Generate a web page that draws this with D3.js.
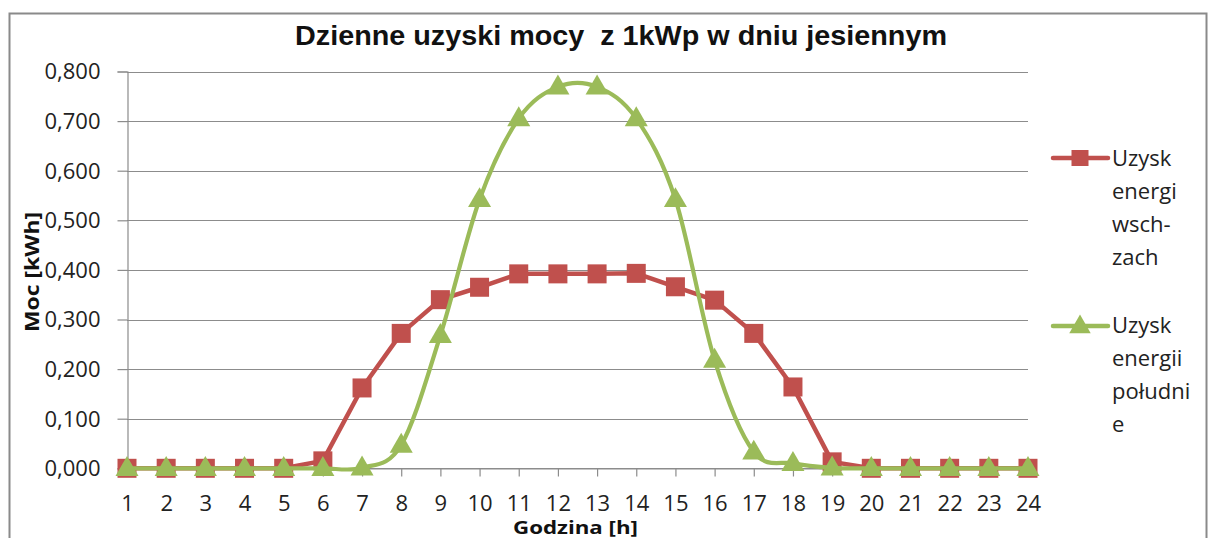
<!DOCTYPE html>
<html>
<head>
<meta charset="utf-8">
<script src="https://cdn.jsdelivr.net/npm/d3@7"></script>
<style>
  html, body { margin: 0; padding: 0; background: #fff; }
  svg { display: block; }
  .pre { white-space: pre; }
</style>
</head>
<body>
<svg id="chart" width="1210" height="538"></svg>
<script>
const hours = [1,2,3,4,5,6,7,8,9,10,11,12,13,14,15,16,17,18,19,20,21,22,23,24];
const eastWest = [0,0,0,0,0,0.015,0.162,0.272,0.340,0.365,0.392,0.392,0.392,0.393,0.366,0.339,0.272,0.164,0.013,0,0,0,0,0];
const south = [0,0,0,0,0,0,0.001,0.047,0.268,0.542,0.705,0.769,0.769,0.705,0.542,0.218,0.033,0.010,0.001,0,0,0,0,0];
const yTicks = [0,0.1,0.2,0.3,0.4,0.5,0.6,0.7,0.8];
const seriesNames = [["Uzysk","energi","wsch-","zach"],["Uzysk","energii","południ","e"]];
const titleText = "Dzienne uzyski mocy  z 1kWp w dniu jesiennym";
const xTitle = "Godzina [h]";
const yTitle = "Moc [kWh]";

const RED = "#C0504D", GREEN = "#9BBB59", GRID = "#8C8C8C";
const FONT = "'Open Sans', 'Liberation Sans', sans-serif";

const svg = d3.select("#chart");

// chart border
svg.append("rect").attr("x", 9.5).attr("y", 13.5).attr("width", 1197).attr("height", 560)
  .attr("fill", "none").attr("stroke", "#8a8a8a").attr("stroke-width", 2);

const x = d3.scalePoint().domain(hours).range([127, 1028]);
const y = d3.scaleLinear().domain([0, 0.8]).range([468.3, 71.5]);

// gridlines
svg.append("g").selectAll("line").data(yTicks).join("line")
  .attr("x1", 127).attr("x2", 1028)
  .attr("y1", d => Math.round(y(d)) + 0.5).attr("y2", d => Math.round(y(d)) + 0.5)
  .attr("stroke", GRID).attr("stroke-width", 1.2);

// y axis
const fmt = d => d3.format(".3f")(d).replace(".", ",");
const yAxis = svg.append("g").attr("transform", "translate(127.5,0)")
  .call(d3.axisLeft(y).tickValues(yTicks).tickFormat(fmt).tickSize(10).tickPadding(17));
yAxis.select(".domain").attr("stroke", GRID).attr("stroke-width", 1.2);
yAxis.selectAll(".tick line").attr("stroke", GRID).attr("stroke-width", 1.2);
yAxis.selectAll(".tick text").attr("font-family", FONT).attr("font-size", 22)
  .attr("fill", "#222").attr("dy", "0.34em");

// x axis
const xAxis = svg.append("g").attr("transform", `translate(0,${Math.round(y(0)) + 0.5})`)
  .call(d3.axisBottom(x).tickSize(8).tickPadding(10));
xAxis.select(".domain").attr("stroke", GRID).attr("stroke-width", 1.2);
xAxis.selectAll(".tick line").attr("stroke", GRID).attr("stroke-width", 1.2);
xAxis.selectAll(".tick text").attr("font-family", FONT).attr("font-size", 22)
  .attr("fill", "#222").attr("dy", null).attr("y", 42);

// lines
const lineRed = d3.line().x((d, i) => x(hours[i])).y(d => y(d)).curve(d3.curveLinear);
const lineGreen = d3.line().x((d, i) => x(hours[i])).y(d => y(d)).curve(d3.curveCardinal.tension(0));

svg.append("path").datum(eastWest).attr("d", lineRed)
  .attr("fill", "none").attr("stroke", RED).attr("stroke-width", 4.5).attr("stroke-linejoin", "round");

// red markers
const sq = 19;
svg.append("g").selectAll("rect").data(eastWest).join("rect")
  .attr("x", (d, i) => x(hours[i]) - sq / 2).attr("y", d => y(d) - sq / 2)
  .attr("width", sq).attr("height", sq).attr("fill", RED);

svg.append("path").datum(south).attr("d", lineGreen)
  .attr("fill", "none").attr("stroke", GREEN).attr("stroke-width", 4.2).attr("stroke-linejoin", "round");

const tri = d3.symbol().type(d3.symbolTriangle).size(230);
svg.append("g").selectAll("path").data(south).join("path")
  .attr("d", tri)
  .attr("transform", (d, i) => `translate(${x(hours[i])},${y(d) + 1})`)
  .attr("fill", GREEN);

// title
svg.append("text").attr("class", "pre").attr("x", 295).attr("y", 45)
  .attr("font-family", "'Liberation Sans', Arial, sans-serif")
  .attr("font-weight", "bold").attr("font-size", 28).attr("fill", "#111")
  .attr("textLength", 652).attr("lengthAdjust", "spacingAndGlyphs").text(titleText);

// axis titles
svg.append("text").attr("x", 513).attr("y", 534).attr("font-family", FONT)
  .attr("font-weight", "bold").attr("font-size", 18).attr("fill", "#111")
  .attr("textLength", 125).attr("lengthAdjust", "spacingAndGlyphs").text(xTitle);

svg.append("text").attr("transform", "translate(39,332) rotate(-90)").attr("font-family", FONT)
  .attr("font-weight", "bold").attr("font-size", 20).attr("fill", "#111")
  .attr("textLength", 120).attr("lengthAdjust", "spacingAndGlyphs").text(yTitle);

// legend
const legY = [158, 326];
const legBase = [166, 333];
const lg = svg.append("g");
[RED, GREEN].forEach((c, k) => {
  lg.append("line").attr("x1", 1053).attr("x2", 1108).attr("y1", legY[k]).attr("y2", legY[k])
    .attr("stroke", c).attr("stroke-width", 4.5).attr("stroke-linecap", "round");
  if (k === 0) {
    lg.append("rect").attr("x", 1080 - 8.5).attr("y", legY[k] - 8).attr("width", 17).attr("height", 16).attr("fill", c);
  } else {
    lg.append("path").attr("d", d3.symbol().type(d3.symbolTriangle).size(200)())
      .attr("transform", `translate(1080,${legY[k] + 1})`).attr("fill", c);
  }
  seriesNames[k].forEach((t, j) => {
    lg.append("text").attr("x", 1112).attr("y", legBase[k] + j * 33)
      .attr("font-family", FONT).attr("font-size", 22).attr("fill", "#222").text(t);
  });
});
</script>
</body>
</html>
